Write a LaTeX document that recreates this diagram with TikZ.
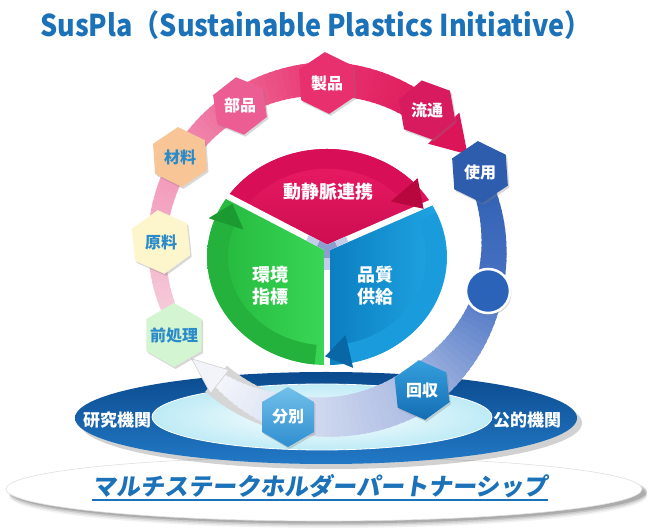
\documentclass[tikz,border=0pt]{standalone}
\usepackage{fontspec}
\setmainfont{Noto Sans CJK JP}
\newfontfamily\jp{Noto Sans CJK JP}
\newfontfamily\jpsl[FakeSlant=0.15]{Noto Sans CJK JP}
\usetikzlibrary{shapes.geometric,shadows,calc}
\definecolor{ttl}{HTML}{1B72B8}
\definecolor{pdark}{HTML}{0B4A8E}
\definecolor{pmid}{HTML}{2279C6}
\definecolor{pcyan}{HTML}{BEEBF6}
\definecolor{pkPale}{HTML}{F6D6E1}
\definecolor{pkMid}{HTML}{F293B6}
\definecolor{pkHot}{HTML}{E8336F}
\definecolor{pkDeep}{HTML}{DC1558}
\definecolor{bDeep}{HTML}{2D5DB0}
\definecolor{bMid}{HTML}{4A74C4}
\definecolor{bLight}{HTML}{A9B9E2}
\definecolor{bPale}{HTML}{DCE3F3}
\definecolor{bWhite}{HTML}{F2F4FA}
\definecolor{redA}{HTML}{EE1E66}
\definecolor{redB}{HTML}{C80A4C}
\definecolor{redRim}{HTML}{D80E56}
\definecolor{redHead}{HTML}{B8063F}
\definecolor{grA}{HTML}{22B43A}
\definecolor{grB}{HTML}{3AD857}
\definecolor{grRim}{HTML}{24B23C}
\definecolor{grHead}{HTML}{1C9A32}
\definecolor{blA}{HTML}{0A7DC0}
\definecolor{blB}{HTML}{22A8E6}
\definecolor{blRim}{HTML}{1A9CDC}
\definecolor{blHead}{HTML}{0A67A6}
\definecolor{gapA}{HTML}{8C9DD0}
\definecolor{gapB}{HTML}{C4CCEA}
\definecolor{hexblue}{HTML}{2B8BC9}
\definecolor{hBuhin}{HTML}{EC5D93}
\definecolor{hSeihin}{HTML}{E8306F}
\definecolor{hRyutsu}{HTML}{D81A5E}
\definecolor{hZai}{HTML}{F8C597}
\definecolor{hGen}{HTML}{FDF6CC}
\definecolor{hMae}{HTML}{D4F5D2}
\definecolor{hShiyo}{HTML}{2F5DAE}
\definecolor{hKaiA}{HTML}{35A0DE}
\definecolor{hKaiB}{HTML}{146CB2}
\definecolor{hBunA}{HTML}{72C0EA}
\definecolor{hBunB}{HTML}{2F8ED0}
\definecolor{circB}{HTML}{2B63B9}
\newcommand\pept[2]{({327+120*(#2)*cos(#1)},{275+108*(#2)*sin(#1)})}
\begin{document}
\begin{tikzpicture}[x=1pt,y=1pt,
  hexa/.style={regular polygon, regular polygon sides=6, minimum size=62pt, inner sep=0pt,
    shape border rotate=30, font=\jp\bfseries\fontsize{16}{16}\selectfont,
    drop shadow={shadow xshift=1.5pt, shadow yshift=-2pt, opacity=0.3}},
  darkhex/.style={hexa, text=white},
  palehex/.style={hexa, text=hexblue},
  pielabel/.style={text=white, font=\jp\bfseries\fontsize{18}{22}\selectfont, align=center},
  platlabel/.style={text=white, font=\jp\bfseries\fontsize{17}{17}\selectfont},
  seg/.style={line cap=butt}
]
\useasboundingbox (0,0) rectangle (650,532);
\fill[white] (0,0) rectangle (650,532);

% title
\node[font=\jp\bfseries\fontsize{30}{30}\selectfont, text=ttl] (title) at (316,507)
  {\scalebox{0.9}[1]{SusPla（Sustainable Plastics Initiative）}};

% bottom ellipse
\foreach \o/\op in {6/0.05,4.5/0.07,3/0.10,1.5/0.14}
  \fill[black, opacity=\op] (328,42-\o) ellipse [x radius=319, y radius=32];
\fill[white] (324,43) ellipse [x radius=318, y radius=32];
\draw[black!12, line width=0.6pt] (324,43) ellipse [x radius=318, y radius=32];
\node[font=\jpsl\bfseries\fontsize{24}{24}\selectfont, text=ttl, inner sep=0pt] (msp) at (320,46)
  {マルチステークホルダーパートナーシップ};
\draw[ttl, line width=1.8pt] ($(msp.south west)+(0,-2)$) -- ($(msp.south east)+(0,-2)$);

% platform
\fill[black, opacity=0.18] (331,109) ellipse [x radius=251, y radius=46];
\shade[top color=pdark, bottom color=pmid] (326,114) ellipse [x radius=251, y radius=46];
\shade[inner color=white, outer color=pcyan] (322,115) ellipse [x radius=170, y radius=33];
\draw[white, line width=0.8pt] (322,115) ellipse [x radius=170, y radius=33];
\node[platlabel] (ken) at (117,112) {研究機関};
\node[platlabel] (kou) at (527,112) {公的機関};

% ring
\coordinate (RC) at (325,285);
% shadow for lower part
\foreach \a in {-56,-58,...,-128}{
  \draw[seg, black!16, line width=34pt] ($(RC)+(1.5,-2.5)$) ++(\a:170) arc[start angle=\a, end angle=\a-2.5, radius=170];
}
% pink band
\foreach \a in {214,212,...,150}{
  \pgfmathsetmacro\p{(\a-150)/64*100}
  \pgfmathsetmacro\w{14+(214-\a)/64*8}
  \draw[seg, line width=\w pt, pkPale!\p!pkMid] (RC) ++(\a:168) arc[start angle=\a, end angle=\a-2.5, radius=168];
}
\foreach \a in {150,148,...,90}{
  \pgfmathsetmacro\p{(\a-90)/60*100}
  \pgfmathsetmacro\w{22+(150-\a)/60*12}
  \draw[seg, line width=\w pt, pkMid!\p!pkHot] (RC) ++(\a:168) arc[start angle=\a, end angle=\a-2.5, radius=168];
}
\foreach \a in {90,88,...,46}{
  \pgfmathsetmacro\p{(\a-46)/44*100}
  \pgfmathsetmacro\w{34-(90-\a)/44*6}
  \draw[seg, line width=\w pt, pkHot!\p!pkDeep] (RC) ++(\a:168) arc[start angle=\a, end angle=\a-2.5, radius=168];
}
\fill[pkDeep] ($(RC)+(45:190)$) -- ($(RC)+(33:170)$) -- ($(RC)+(45:146)$) -- cycle;

% blue band
\foreach \a in {28,26,...,-14}{
  \pgfmathsetmacro\p{(\a+14)/42*100}
  \pgfmathsetmacro\w{20+(28-\a)/42*8}
  \draw[seg, line width=\w pt, bDeep!\p!bMid] (RC) ++(\a:169) arc[start angle=\a, end angle=\a-2.5, radius=169];
}
\foreach \a in {-14,-16,...,-56}{
  \pgfmathsetmacro\p{(\a+56)/42*100}
  \pgfmathsetmacro\w{28+(-14-\a)/42*18}
  \draw[seg, line width=\w pt, bMid!\p!bLight] (RC) ++(\a:170) arc[start angle=\a, end angle=\a-2.5, radius=170];
}
\foreach \a in {-56,-58,...,-104}{
  \pgfmathsetmacro\p{(\a+104)/48*100}
  \pgfmathsetmacro\w{46-(-56-\a)/48*10}
  \draw[seg, line width=\w pt, bLight!\p!bPale] (RC) ++(\a:170) arc[start angle=\a, end angle=\a-2.5, radius=170];
}
\foreach \a in {-104,-106,...,-126}{
  \pgfmathsetmacro\p{(\a+126)/22*100}
  \pgfmathsetmacro\w{36-(-104-\a)/22*20}
  \draw[seg, line width=\w pt, bPale!\p!bWhite] (RC) ++(\a:170) arc[start angle=\a, end angle=\a-2.5, radius=170];
}
\fill[bWhite, draw=black!20, line width=0.5pt] ($(RC)+(-128:186)$) -- ($(RC)+(220:174)$) -- ($(RC)+(-128:156)$) -- cycle;

% pie
\coordinate (PC) at (327,275);
\coordinate (J) at (327,284);
\begin{scope}
  \clip (J) -- \pept{146}{1} arc[start angle=146, end angle=30, x radius=120, y radius=108] -- cycle;
  \shade[top color=redA, bottom color=redB] (200,270) rectangle (460,390);
  \draw[seg, redRim, line width=20pt] \pept{150}{0.91} arc[start angle=150, end angle=40, x radius=109.2, y radius=98.3];
\end{scope}
\begin{scope}
  \clip (J) -- \pept{270}{1} arc[start angle=270, end angle=146, x radius=120, y radius=108] -- cycle;
  \shade[left color=grA, right color=grB] (200,160) rectangle (330,345);
  \draw[seg, grRim, line width=20pt] \pept{264}{0.91} arc[start angle=264, end angle=158, x radius=109.2, y radius=98.3];
\end{scope}
\begin{scope}
  \clip (J) -- \pept{30}{1} arc[start angle=30, end angle=-90, x radius=120, y radius=108] -- cycle;
  \shade[left color=blA, right color=blB] (325,160) rectangle (450,345);
  \draw[seg, blRim, line width=20pt] \pept{24}{0.91} arc[start angle=24, end angle=-78, x radius=109.2, y radius=98.3];
\end{scope}
\coordinate (UL) at ({327+124.8*cos(146)},{275+112.3*sin(146)});
\coordinate (UR) at ({327+124.8*cos(30)},{275+112.3*sin(30)});
\coordinate (BT) at (327,162);
\foreach \e in {UL,UR,BT}{
  \draw[seg, white, line width=6pt] (J) -- (\e);
  \draw[seg, gapA, line width=6pt] (J) -- ($(J)!10pt!(\e)$);
  \draw[seg, gapB, line width=6pt] ($(J)!10pt!(\e)$) -- ($(J)!22pt!(\e)$);
}
\fill[gapA] (J) circle (3.5);
\fill[redHead] \pept{44}{1.05} -- \pept{29}{0.92} -- \pept{44}{0.74} -- cycle;
\fill[grHead] \pept{160}{1.05} -- \pept{148}{0.93} -- \pept{160}{0.74} -- cycle;
\fill[blHead] \pept{-78}{1.05} -- \pept{-91}{0.92} -- \pept{-78}{0.74} -- cycle;
\node[pielabel] (dou) at (328,340) {動静脈連携};
\node[pielabel] (kan) at (270,246) {環境\\指標};
\node[pielabel] (hin) at (375,246) {品質\\供給};

% hexagons
\node[darkhex, fill=hBuhin, minimum size=58pt, shape border rotate=38] (buhin) at (240,426) {\makebox[0pt]{部品}};
\node[darkhex, fill=hSeihin, shape border rotate=34] (seihin) at (327,449) {\makebox[0pt]{製品}};
\node[darkhex, fill=hRyutsu, minimum size=60pt, shape border rotate=40] (ryutsu) at (427,422) {\makebox[0pt]{流通}};
\node[palehex, fill=hZai, minimum size=60pt, shape border rotate=34] (zai) at (180,375) {\makebox[0pt]{材料}};
\node[palehex, fill=hGen, minimum size=64pt, shape border rotate=36] (gen) at (161,290) {\makebox[0pt]{原料}};
\node[palehex, fill=hMae, minimum size=64pt, shape border rotate=30] (mae) at (174,197) {\makebox[0pt]{前処理}};
\node[darkhex, fill=hShiyo, minimum size=62pt, shape border rotate=34] (shiyo) at (480,360) {\makebox[0pt]{使用}};
\node[circle, minimum size=44pt, fill=circB, draw=white, line width=2.5pt,
  drop shadow={shadow xshift=1.5pt, shadow yshift=-2pt, opacity=0.3}] (dot) at (488,241) {};
\node[darkhex, top color=hKaiA, bottom color=hKaiB, minimum size=60pt, shape border rotate=36] (kai) at (422,142) {\makebox[0pt]{回収}};
\node[darkhex, top color=hBunA, bottom color=hBunB, minimum size=60pt, shape border rotate=30] (bun) at (288,115) {\makebox[0pt]{分別}};
\end{tikzpicture}
\end{document}
